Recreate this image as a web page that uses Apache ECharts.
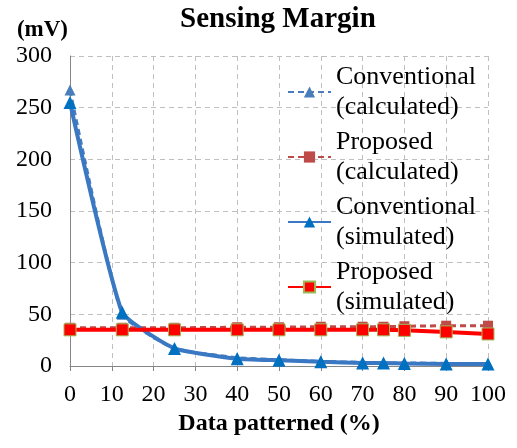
<!DOCTYPE html>
<html>
<head>
<meta charset="utf-8">
<script src="https://cdn.jsdelivr.net/npm/echarts@6/dist/echarts.min.js"></script>
<style>
  html, body { margin: 0; padding: 0; background: #fff; }
  #main { width: 517px; height: 448px; }
</style>
</head>
<body>
<div id="main"></div>
<script>
var xValues = [0, 12.5, 25, 40, 50, 60, 70, 75, 80, 90, 100];
var convCalc = [267, 50, 17, 8, 6, 4.5, 3.5, 3, 3, 2.5, 2];
var propCalc = [37, 37, 37, 37.5, 37.5, 38, 38, 38, 38.5, 39, 39];
var convSim = [255, 52, 17, 7, 5.5, 4, 3, 3, 2.5, 2, 2];
var propSim = [35, 35, 35, 35, 35, 35, 35, 35, 34.5, 33, 31];
var xTicks = [0, 10, 20, 30, 40, 50, 60, 70, 80, 90, 100];
var yTicks = [0, 50, 100, 150, 200, 250, 300];

function pairs(ys) {
    return xValues.map(function (x, i) { return [x, ys[i]]; });
}

var font = 'Liberation Serif';

var option = {
    animation: false,
    textStyle: { fontFamily: font },
    title: {
        text: 'Sensing Margin',
        left: 175,
        top: 0,
        textStyle: { fontFamily: font, fontSize: 29, fontWeight: 'bold', color: '#000' }
    },
    legend: {
        orient: 'vertical',
        left: 282,
        top: 42,
        itemWidth: 43,
        itemHeight: 14,
        itemGap: -25,
        textStyle: {
            fontFamily: font, fontSize: 26, color: '#000',
            lineHeight: 30, padding: [30, 0, 0, 0]
        },
        data: ['Conventional\n(calculated)', 'Proposed\n(calculated)',
               'Conventional\n(simulated)', 'Proposed\n(simulated)']
    },
    grid: { left: 70, right: 29, top: 56, bottom: 82 },
    xAxis: {
        type: 'value',
        min: xTicks[0],
        max: xTicks[xTicks.length - 1],
        interval: 10,
        name: 'Data patterned (%)',
        nameLocation: 'middle',
        nameGap: 56,
        nameTextStyle: { fontFamily: font, fontSize: 24, fontWeight: 'bold', color: '#000', verticalAlign: 'middle' },
        axisLine: { lineStyle: { color: '#868686', width: 1 } },
        axisTick: { show: true, length: 5, lineStyle: { color: '#868686' } },
        axisLabel: { fontFamily: font, fontSize: 24, color: '#000', margin: 17 },
        splitLine: { show: true, lineStyle: { color: '#bfbfbf', type: [5, 4] } }
    },
    yAxis: {
        type: 'value',
        min: yTicks[0],
        max: yTicks[yTicks.length - 1],
        interval: 50,
        name: '(mV)',
        nameLocation: 'end',
        nameGap: 26,
        nameTextStyle: { fontFamily: font, fontSize: 23, fontWeight: 'bold', color: '#000', align: 'right', verticalAlign: 'middle', padding: [0, 2, 0, 0] },
        axisLine: { show: true, lineStyle: { color: '#868686', width: 1 } },
        axisTick: { show: false },
        axisLabel: { fontFamily: font, fontSize: 24, color: '#000', margin: 18 },
        splitLine: { show: true, lineStyle: { color: '#bfbfbf', type: [5, 4] } }
    },
    series: [
        {
            name: 'Conventional\n(calculated)',
            type: 'line',
            data: pairs(convCalc),
            smooth: 0.15,
            symbol: 'triangle',
            symbolSize: 11,
            itemStyle: { color: '#4a7ebb' },
            lineStyle: { color: '#4a7ebb', width: 3, type: [6, 4] }
        },
        {
            name: 'Proposed\n(calculated)',
            type: 'line',
            data: pairs(propCalc),
            symbol: 'rect',
            symbolSize: 10,
            itemStyle: { color: '#be4b48' },
            lineStyle: { color: '#be4b48', width: 3, type: [6, 4] }
        },
        {
            name: 'Conventional\n(simulated)',
            type: 'line',
            data: pairs(convSim),
            smooth: 0.15,
            symbol: 'triangle',
            symbolSize: 13,
            itemStyle: { color: '#0070c0' },
            lineStyle: { color: '#3a78c3', width: 4 }
        },
        {
            name: 'Proposed\n(simulated)',
            type: 'line',
            data: pairs(propSim),
            symbol: 'rect',
            symbolSize: 12,
            itemStyle: { color: '#ff0000', borderColor: '#9bbb59', borderWidth: 1 },
            lineStyle: { color: '#ff0000', width: 4 }
        }
    ]
};

var chart = echarts.init(document.getElementById('main'));
chart.setOption(option);
</script>
</body>
</html>
